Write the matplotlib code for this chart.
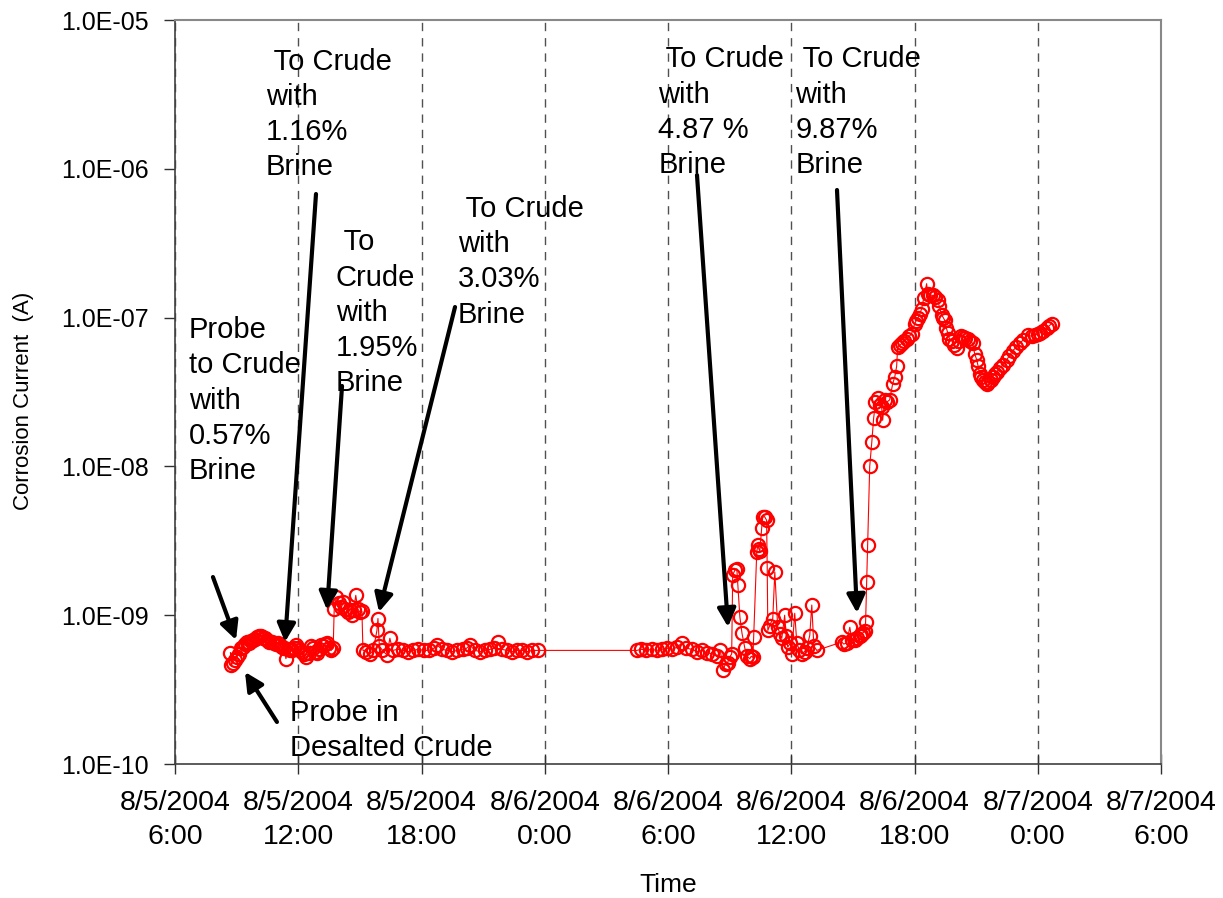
import matplotlib
matplotlib.use("Agg")
import matplotlib.pyplot as plt
import matplotlib.dates as mdates
import matplotlib.ticker as mticker
from datetime import datetime, timedelta

plt.rcParams['font.family'] = ['Liberation Sans', 'DejaVu Sans']

# hours after 8/5/2004 6:00 and corrosion current in nA
hours = [
    2.7, 2.75, 2.8, 2.9, 3.0, 3.1, 3.2, 3.3, 3.4, 3.5, 3.6, 3.7, 3.8, 3.9, 4.0, 4.1,
    4.2, 4.3, 4.4, 4.5, 4.6, 4.7, 4.8, 4.9, 5.0, 5.1, 5.2, 5.3, 5.4, 5.5, 5.6, 5.7,
    5.8, 5.9, 6.0, 6.1, 6.2, 6.3, 6.4, 6.5, 6.6, 6.7, 6.8, 6.9, 7.0, 7.1, 7.2, 7.3,
    7.4, 7.5, 7.6, 7.7,
    7.75, 7.85, 8.0, 8.1, 8.2, 8.3, 8.4, 8.5, 8.6, 8.7, 8.8, 8.9, 9.0, 9.1,
    9.15, 9.3, 9.5, 9.65, 9.83, 9.88, 9.95, 10.1, 10.32, 10.46,
    10.6, 10.85, 11.1, 11.35, 11.6, 11.85, 12.1, 12.35, 12.6, 12.75, 13.0, 13.25,
    13.5, 13.75, 14.0, 14.2, 14.35, 14.6, 14.85, 15.1, 15.35, 15.55, 15.7, 15.9,
    16.15, 16.4, 16.65, 16.9, 17.15, 17.4, 17.65,
    22.48, 22.7, 22.95, 23.2, 23.45, 23.7, 23.95, 24.2, 24.45, 24.67, 24.9, 25.15,
    25.4, 25.65, 25.9, 26.15, 26.4, 26.55,
    26.67, 26.8, 26.9, 27.0, 27.1, 27.15, 27.25, 27.35, 27.4, 27.5, 27.6, 27.74,
    27.85, 27.98, 28.05, 28.13, 28.17, 28.32, 28.37, 28.42, 28.47, 28.56, 28.61,
    28.7, 28.8, 28.83, 28.86, 28.95, 29.1, 29.2, 29.34, 29.45, 29.54, 29.68, 29.75,
    29.83, 29.95, 30.02, 30.17, 30.27, 30.4, 30.51, 30.65, 30.75, 30.9, 31.0, 31.1,
    31.24,
    32.46, 32.55, 32.7, 32.85, 32.95, 33.1, 33.2, 33.33, 33.4, 33.48, 33.58, 33.62,
    33.67, 33.72, 33.82, 33.92, 34.01, 34.1, 34.21, 34.3, 34.4, 34.45, 34.55, 34.65,
    34.79, 34.94, 35.04, 35.13, 35.18, 35.28, 35.38, 35.5, 35.62, 35.75, 35.86,
    36.01, 36.08, 36.16, 36.25, 36.35, 36.45, 36.59, 36.64, 36.75, 36.89, 37.0,
    37.13, 37.2, 37.32, 37.4, 37.47, 37.55, 37.62, 37.7, 37.81, 37.92, 38.05, 38.15,
    38.25, 38.35, 38.47, 38.59, 38.7, 38.83, 38.93, 39.03, 39.1, 39.17, 39.25,
    39.32, 39.42, 39.51, 39.6, 39.7, 39.8, 39.9, 40.0, 40.15, 40.3, 40.49, 40.6,
    40.78, 40.95, 41.12, 41.3, 41.51, 41.7, 41.85, 42.0, 42.09, 42.25, 42.43,
    42.55, 42.68,
]
current_na = [
    0.56, 0.46, 0.48, 0.50, 0.52, 0.55, 0.60, 0.61, 0.64, 0.66, 0.65, 0.67, 0.68, 0.69, 0.71, 0.73,
    0.72, 0.70, 0.70, 0.68, 0.66, 0.66, 0.65, 0.64, 0.65, 0.63, 0.61, 0.60, 0.51, 0.59, 0.58, 0.58,
    0.60, 0.63, 0.60, 0.58, 0.57, 0.55, 0.52, 0.56, 0.62, 0.60, 0.57, 0.56, 0.59, 0.63, 0.62, 0.64,
    0.65, 0.60, 0.58, 0.60,
    1.10, 1.32, 1.20, 1.13, 1.22, 1.10, 1.05, 1.08, 1.00, 1.08, 1.36, 1.10, 1.05, 1.06,
    0.58, 0.57, 0.55, 0.58, 0.79, 0.95, 0.62, 0.58, 0.54, 0.70,
    0.58, 0.59, 0.58, 0.57, 0.58, 0.59, 0.58, 0.58, 0.60, 0.63, 0.59, 0.58,
    0.57, 0.58, 0.59, 0.60, 0.63, 0.58, 0.57, 0.58, 0.59, 0.60, 0.66, 0.59,
    0.58, 0.57, 0.58, 0.58, 0.57, 0.58, 0.58,
    0.58, 0.59, 0.58, 0.59, 0.58, 0.59, 0.60, 0.59, 0.61, 0.65, 0.60, 0.59,
    0.57, 0.58, 0.56, 0.55, 0.53, 0.58,
    0.43, 0.47, 0.48, 0.52, 0.55, 1.86, 2.0, 2.05, 1.6, 0.97, 0.76, 0.60,
    0.53, 0.51, 0.53, 0.52, 0.71, 2.65, 2.95, 2.8, 2.7, 3.84, 4.55,
    4.6, 4.35, 2.07, 0.79, 0.85, 0.95, 1.95, 0.83, 0.75, 0.70, 1.0, 0.72,
    0.61, 0.65, 0.55, 1.03, 0.65, 0.58, 0.55, 0.57, 0.60, 0.73, 1.17, 0.62,
    0.58,
    0.66, 0.64, 0.65, 0.83, 0.68, 0.68, 0.70, 0.73, 0.74, 0.76, 0.78, 0.90,
    1.67, 2.95, 10, 14.5, 21, 27, 29, 26, 25, 20.4, 28, 27,
    28, 36, 40, 47, 63, 65, 67, 70, 72, 75, 78,
    91, 95, 99, 105, 115, 135, 169, 144, 142, 141, 138,
    131, 120, 104, 100, 96, 85, 79, 72, 70, 65, 62, 70,
    75, 74, 73, 72, 70, 67, 57, 52, 47, 42, 40,
    38, 37, 36, 37, 38, 40, 42, 43, 46, 48, 52, 55,
    60, 63, 67, 71, 76, 75, 76, 78, 79, 81, 85,
    88, 91,
]

# annotation texts with arrows (text top-left, arrow tail, arrow tip) in axes fraction
notes = [
    ("Probe\nto Crude\nwith\n0.57%\nBrine", (0.014, 0.602), (0.0385, 0.2513), (0.0619, 0.1667)),
    (" To Crude\nwith\n1.16%\nBrine", (0.092, 0.963), (0.1430, 0.7661), (0.1116, 0.1640)),
    (" To\nCrude\nwith\n1.95%\nBrine", (0.163, 0.720), (0.1694, 0.5081), (0.1542, 0.2070)),
    (" To Crude\nwith\n3.03%\nBrine", (0.287, 0.765), (0.2840, 0.6142), (0.2069, 0.2043)),
    (" To Crude\nwith\n4.87 %\nBrine", (0.490, 0.966), (0.5294, 0.7917), (0.5609, 0.1841)),
    (" To Crude\nwith\n9.87%\nBrine", (0.629, 0.966), (0.6714, 0.7715), (0.6917, 0.2030)),
    ("Probe in\nDesalted Crude", (0.117, 0.088), (0.1034, 0.0565), (0.0710, 0.1237)),
]

t0 = datetime(2004, 8, 5, 6, 0)
times = [t0 + timedelta(hours=h) for h in hours]
current = [v * 1e-9 for v in current_na]

fig = plt.figure(figsize=(12.23, 8.98), dpi=100)
ax = fig.add_axes([175 / 1223, 134 / 898, 986 / 1223, 744 / 898])

ax.plot(times, current, color='#ff0000', lw=0.8, marker='o', ms=9.5,
        mfc='none', mec='#ff0000', mew=1.6)

ax.set_yscale('log')
ax.set_ylim(1e-10, 1e-5)
ax.set_xlim(t0, t0 + timedelta(hours=48))

ax.xaxis.set_major_locator(mdates.HourLocator(byhour=[0, 6, 12, 18]))
ax.xaxis.set_major_formatter(mticker.FuncFormatter(
    lambda v, pos: (lambda d: f"{d.month}/{d.day}/{d.year}\n{d.hour}:{d.minute:02d}")(mdates.num2date(v))))
ax.yaxis.set_major_locator(mticker.LogLocator(base=10, numticks=10))
ax.yaxis.set_minor_locator(mticker.NullLocator())
ax.yaxis.set_major_formatter(mticker.FuncFormatter(lambda v, pos: f"{v:.1E}"))

ax.grid(True, axis='x', color='#505050', ls=(0, (6, 5)), lw=1.0)
ax.tick_params(axis='x', direction='inout', length=14, width=1, color='#303030',
               labelsize=20.5, pad=12)
ax.tick_params(axis='y', direction='out', length=8, width=1, color='#303030',
               labelsize=18, pad=11)
for lbl in ax.get_xticklabels():
    lbl.set_linespacing(1.4)

for side in ['left', 'bottom']:
    ax.spines[side].set_color('#404040')
    ax.spines[side].set_linewidth(1.2)
for side in ['top', 'right']:
    ax.spines[side].set_color('#888888')
    ax.spines[side].set_linewidth(1.5)

ax.set_xlabel('Time', fontsize=19)
ax.xaxis.set_label_coords(0.5, -0.147)
ax.set_ylabel('Corrosion Current  (A)', fontsize=16)
ax.yaxis.set_label_coords(-0.143, 0.488)

for text, pos, tail, tip in notes:
    ax.text(pos[0], pos[1], text, transform=ax.transAxes, fontsize=21,
            ha='left', va='top', linespacing=1.33)
    ax.annotate('', xy=tip, xytext=tail, xycoords='axes fraction',
                textcoords='axes fraction',
                arrowprops=dict(arrowstyle='-|>,head_length=1.0,head_width=0.5',
                                mutation_scale=11, lw=3, color='black',
                                shrinkA=0, shrinkB=0))

fig.savefig('out.png', dpi=100)
